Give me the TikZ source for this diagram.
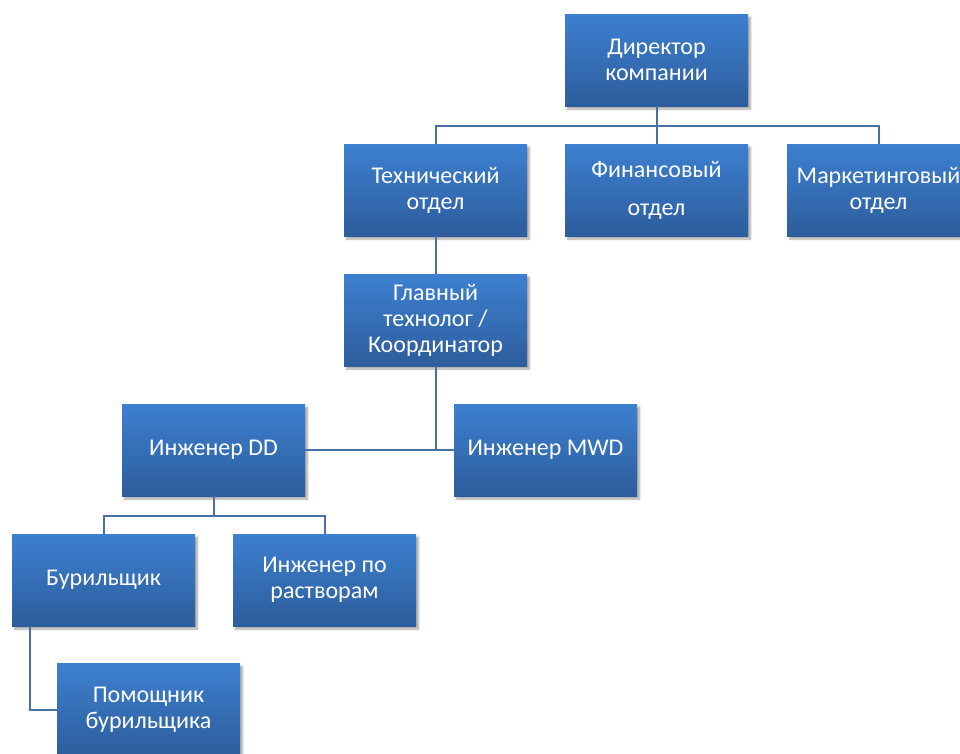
\documentclass[tikz,border=0pt]{standalone}
\usepackage{fontspec}
\setmainfont{Carlito}
\usetikzlibrary{shadows.blur}
\definecolor{boxtop}{RGB}{61,128,208}
\definecolor{boxbot}{RGB}{45,93,156}
\definecolor{linec}{RGB}{74,112,168}
\tikzset{
  orgbox/.style={rectangle, minimum width=183pt, minimum height=92pt, inner sep=0pt,
    top color=boxtop, bottom color=boxbot, text=white, align=center,
    font=\fontsize{24pt}{26pt}\selectfont,
    blur shadow={shadow xshift=2.5pt, shadow yshift=-3pt, shadow blur steps=6, shadow opacity=35}},
  conn/.style={draw=linec, line width=2pt}
}
\begin{document}
\begin{tikzpicture}[x=1pt,y=-1pt]
\useasboundingbox (0,0) rectangle (960,753);
\clip (0,0) rectangle (960,753);
\node[orgbox] (dir) at (656.5,60) {Директор\\компании};
\node[orgbox] (tech) at (435.5,190) {Технический\\отдел};
\node[orgbox, font=\fontsize{24pt}{38pt}\selectfont] (fin) at (656.5,190) {Финансовый\\отдел};
\node[orgbox] (mkt) at (878.5,190) {Маркетинговый\\отдел};
\node[orgbox] (glav) at (435.5,320) {Главный\\технолог /\\Координатор};
\node[orgbox] (dd) at (213.5,450) {Инженер DD};
\node[orgbox] (mwd) at (545.5,450) {Инженер MWD};
\node[orgbox] (bur) at (103.5,580) {Бурильщик};
\node[orgbox] (rast) at (324.5,580) {Инженер по\\растворам};
\node[orgbox] (pom) at (148.5,709.5) {Помощник\\бурильщика};
\draw[conn] (dir.south) -- (fin.north);
\draw[conn] (tech.north) -- ++(0,-18) -| (mkt.north);
\draw[conn] (tech.south) -- (glav.north);
\draw[conn] (glav.south) -- (glav.south |- dd.east);
\draw[conn] (dd.east) -- (mwd.west);
\draw[conn] (dd.south) -- ++(0,20);
\draw[conn] (bur.north) -- ++(0,-18) -| (rast.north);
\draw[conn] ([xshift=-73.5pt]bur.south) |- (pom.west);
\end{tikzpicture}
\end{document}
